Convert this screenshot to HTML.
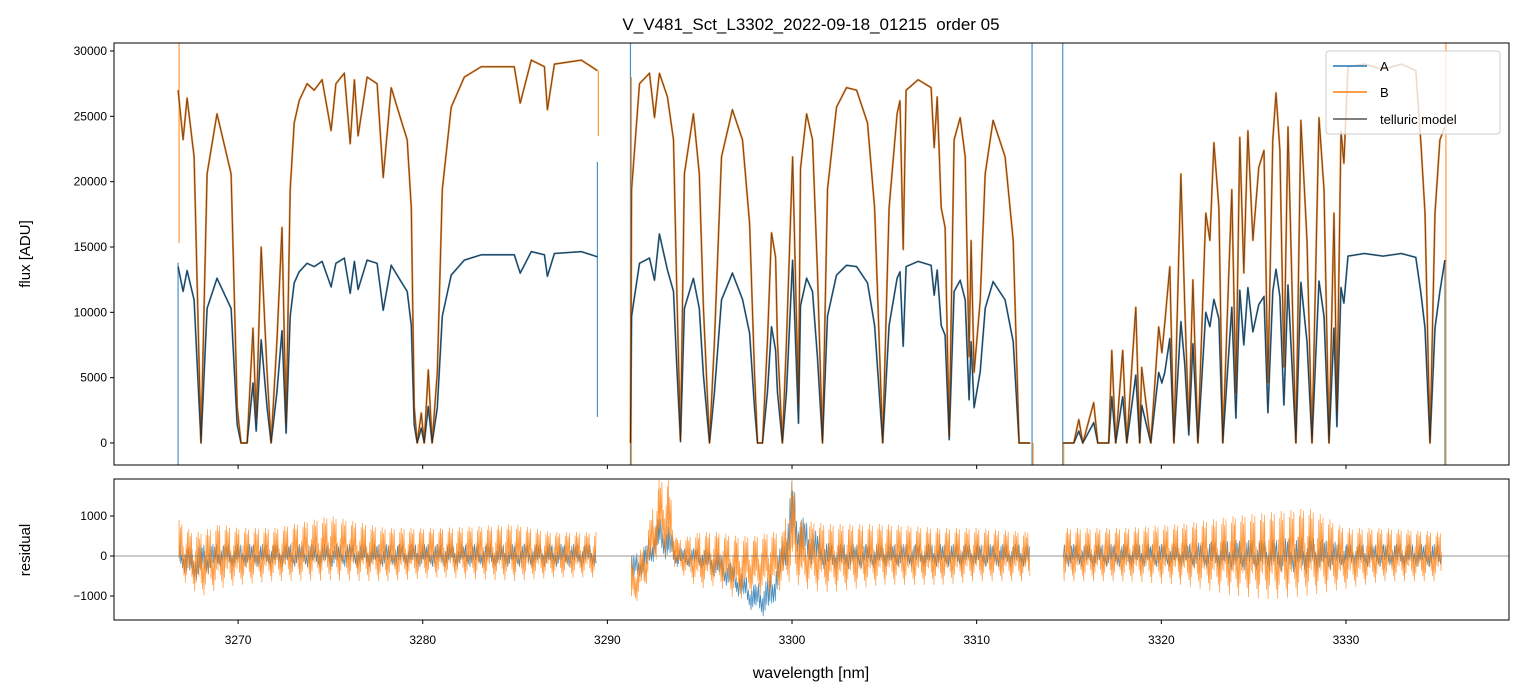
<!DOCTYPE html>
<html><head><meta charset="utf-8"><style>
body{margin:0;background:#fff;}
svg{display:block;font-family:"Liberation Sans","DejaVu Sans",sans-serif;}
</style></head><body>
<svg id="chart" width="1523" height="696" viewBox="0 0 1523 696" xmlns="http://www.w3.org/2000/svg">
<text x="811" y="30" font-size="17" text-anchor="middle" style="white-space:pre">V_V481_Sct_L3302_2022-09-18_01215&#160; order 05</text>
<g id="topG"></g>
<g id="botG"></g>
<text x="30" y="254" font-size="15" text-anchor="middle" transform="rotate(-90 30 254)">flux [ADU]</text>
<text x="30" y="550" font-size="15" text-anchor="middle" transform="rotate(-90 30 550)">residual</text>
<text x="811" y="678" font-size="16" text-anchor="middle">wavelength [nm]</text>
<g>
<rect x="1326" y="51" width="174" height="83" rx="3" fill="#fff" fill-opacity="0.8" stroke="#ccc"/>
<line x1="1333" y1="66" x2="1367" y2="66" stroke="#1f77b4" stroke-width="1.5"/>
<text x="1380" y="71" font-size="13">A</text>
<line x1="1333" y1="92" x2="1367" y2="92" stroke="#ff7f0e" stroke-width="1.5"/>
<text x="1380" y="97" font-size="13">B</text>
<line x1="1333" y1="119" x2="1367" y2="119" stroke="#555" stroke-width="1.5"/>
<text x="1380" y="124" font-size="13">telluric model</text>
</g>
</svg>
<script>
const wl=[3266.75,3267.02,3267.24,3267.62,3267.99,3268.32,3268.86,3269.62,3269.95,3270.16,3270.49,3270.81,3270.98,3271.25,3271.57,3271.79,3272.11,3272.38,3272.60,3272.82,3273.04,3273.31,3273.74,3274.12,3274.55,3275.04,3275.30,3275.75,3276.07,3276.30,3276.50,3276.99,3277.53,3277.86,3278.29,3278.83,3279.16,3279.38,3279.54,3279.70,3279.92,3280.08,3280.30,3280.51,3280.79,3281.06,3281.54,3282.25,3283.17,3284.96,3285.28,3285.88,3286.59,3286.75,3287.13,3288.59,3289.46,null,
3291.25,3291.31,3291.74,3292.28,3292.55,3292.82,3293.25,3293.58,3293.74,3293.96,3294.17,3294.66,3294.98,3295.20,3295.53,3295.80,3296.18,3296.77,3297.32,3297.70,3297.97,3298.13,3298.40,3298.67,3298.89,3299.11,3299.21,3299.48,3299.70,3300.03,3300.35,3300.46,3300.79,3301.11,3301.38,3301.65,3301.92,3302.41,3302.95,3303.50,3304.09,3304.47,3304.91,3305.26,3305.69,3305.85,3306.02,3306.18,3306.83,3307.53,3307.70,3307.86,3308.08,3308.29,3308.51,3308.78,3309.11,3309.38,3309.59,3309.70,3309.86,3310.19,3310.46,3310.89,3311.54,3311.98,3312.30,3312.90,null,
3314.66,3315.26,3315.53,3315.75,3316.34,3316.56,3317.15,3317.32,3317.53,3317.91,3318.13,3318.62,3318.83,3318.94,3319.43,3319.86,3320.03,3320.19,3320.46,3320.68,3321.06,3321.27,3321.49,3321.71,3321.98,3322.41,3322.63,3322.85,3323.12,3323.33,3323.82,3324.04,3324.25,3324.47,3324.69,3324.96,3325.28,3325.56,3325.77,3326.04,3326.21,3326.42,3326.64,3326.86,3327.29,3327.56,3327.89,3328.16,3328.54,3328.81,3329.08,3329.35,3329.51,3329.73,3329.89,3330.11,3331.0,3332.0,3333.0,3333.78,3334.05,3334.28,3334.55,3334.82,3335.09,3335.36];
const fluxB=[27000,23200,26400,21900,0,20600,25200,20600,2750,0,0,8800,1800,15000,5400,0,7900,16500,1500,19400,24500,26200,27500,27000,27800,23900,27500,28300,22900,27800,23500,28000,27500,20300,27200,24700,23200,18000,2800,0,2300,0,5600,0,5400,19400,25700,28000,28800,28800,26000,29300,28800,25500,29000,29300,28500,null,
0,19400,27500,28300,24900,28300,26500,23200,13000,200,20600,25200,20600,10400,0,7900,21900,25500,23200,16800,5400,0,0,7900,16100,14200,7900,0,7900,21900,3000,21000,25200,23200,13000,0,19400,25700,27200,27000,24500,18000,0,18000,25200,26200,14800,27000,27800,27200,22600,26500,18000,16500,500,23200,24900,21900,6600,15500,5400,10900,20600,24700,21900,15500,0,0,null,
0,0,1800,0,3100,0,0,7100,0,7100,0,10400,0,5800,0,8900,6900,9200,13500,0,20600,10400,1200,12500,0,17600,15500,23000,18000,0,19400,3800,23400,13000,23900,15500,21100,22400,4600,23200,26800,22400,5800,24200,0,24700,15500,0,24900,19400,0,17600,2500,23900,21400,28800,29000,28600,29000,28500,23200,17600,0,17600,23200,24200];
const fluxA=[13500,11600,13200,10950,0,10300,12600,10300,1400,0,0,4600,900,7900,2700,0,3950,8600,750,9700,12250,13100,13750,13500,13900,11950,13750,14150,11450,13900,11750,14000,13750,10150,13600,12350,11600,9000,1400,0,1150,0,2800,0,2700,9700,12850,14000,14400,14400,13000,14650,14400,12750,14500,14650,14250,null,
0,9700,13750,14150,12450,16000,13250,11600,6500,100,10300,12600,10300,5200,0,3950,10950,13000,11000,8400,2700,0,0,3950,8900,7100,3950,0,3950,14000,1500,10500,12600,11600,6500,0,9700,12850,13600,13500,12250,9000,0,9000,12600,13100,7400,13500,13900,13600,11300,13250,9000,8250,250,11600,12450,10950,3300,7750,2700,5450,10300,12350,10950,7750,0,0,null,
0,0,900,0,1550,0,0,3550,0,3550,0,5200,0,2900,0,5400,4600,5400,8000,0,9300,6000,600,7600,0,10000,8900,11000,9500,0,10400,1900,11700,7500,11900,8500,10600,11200,2300,11600,13300,11200,2900,12100,0,12300,7750,0,12400,9700,0,8800,1250,11900,10700,14300,14500,14300,14500,14200,11600,8800,0,8800,11600,14000];
const edgeWl=[3266.75,3289.46,3291.25,3313.0,3314.66,3335.36];
const edgeLoA=[-1700,2000,-1700,-1700,-1700,-1700];
const edgeHiA=[13800,21500,30700,30700,30700,14000];
const edgeLoB=[15300,23500,-1700,-1700,-1700,-1700];
const edgeHiB=[30700,28500,28000,0,0,30700];
const resWl=[3266.8,3267.5,3268,3269,3270,3272,3275,3278,3281,3285,3287,3289.4,null,3291.3,3292,3292.8,3293.3,3293.8,3295,3296,3297,3298,3298.8,3299.5,3300,3300.5,3302,3305,3308,3310,3312.9,null,3314.7,3318,3321,3324,3326,3328,3330,3332,3335.2];
const resBhi=[900,600,600,800,700,700,1000,700,700,800,600,600,null,-200,300,1900,1900,400,600,600,500,500,600,600,1900,900,800,800,700,700,600,null,700,700,800,1000,1100,1200,700,700,600];
const resBlo=[-600,-900,-1100,-900,-800,-700,-700,-700,-600,-700,-600,-600,null,-1400,-900,0,-200,-400,-900,-800,-1200,-1000,-1100,-900,-700,-900,-1000,-800,-800,-700,-700,null,-700,-700,-800,-1100,-1200,-1100,-900,-700,-700];
const resAhi=[300,200,300,300,300,300,300,300,300,300,300,300,null,0,200,1000,800,200,200,100,-300,-700,-500,400,1900,1000,300,300,300,300,300,null,300,300,300,400,400,500,300,300,300];
const resAlo=[-300,-700,-600,-300,-300,-300,-300,-300,-300,-300,-300,-300,null,-800,-500,0,-200,-300,-300,-600,-1000,-1500,-1600,-600,0,-200,-400,-300,-300,-300,-300,null,-300,-300,-300,-400,-400,-500,-300,-300,-300];
const fluxTicks=[0,5000,10000,15000,20000,25000,30000];
const resTicks=[-1000,0,1000];
const xTicks=[3270,3280,3290,3300,3310,3320,3330];

const NS="http://www.w3.org/2000/svg";
const L=114,R=1509,T1=43,B1=465,T2=479,B2=620;
const X0=3263.28,X1=3338.83;
const xs=v=>L+(v-X0)/(X1-X0)*(R-L);
const y1=v=>T1+(30612-v)/(30612+1685)*(B1-T1);
const y2=v=>T2+(1925-v)/(1925+1600)*(B2-T2);
function mk(tag,attrs,parent){const e=document.createElementNS(NS,tag);for(const k in attrs)e.setAttribute(k,attrs[k]);parent.appendChild(e);return e;}
const topPanel=document.getElementById('topG'),botPanel=document.getElementById('botG');
const defs=mk('defs',{},document.getElementById('chart'));
const c1=mk('clipPath',{id:'c1'},defs);mk('rect',{x:L,y:T1,width:R-L,height:B1-T1},c1);
const c2=mk('clipPath',{id:'c2'},defs);mk('rect',{x:L,y:T2,width:R-L,height:B2-T2},c2);
const g1=mk('g',{'clip-path':'url(#c1)'},topPanel);
const g2=mk('g',{'clip-path':'url(#c2)'},botPanel);
function linePath(xv,yv,fy){let d='',pen=false;for(let i=0;i<xv.length;i++){if(xv[i]===null||yv[i]===null){pen=false;continue;}d+=(pen?'L':'M')+xs(xv[i]).toFixed(1)+','+fy(yv[i]).toFixed(1);pen=true;}return d;}
for(let i=0;i<edgeWl.length;i++){
 const ea=mk('line',{x1:xs(edgeWl[i]),x2:xs(edgeWl[i]),y1:y1(edgeLoA[i]),y2:y1(edgeHiA[i]),stroke:'#1f77b4','stroke-width':1.2,'stroke-opacity':0.8},g1);
 
 
 const eb=mk('line',{x1:xs(edgeWl[i])+1,x2:xs(edgeWl[i])+1,y1:y1(edgeLoB[i]),y2:y1(edgeHiB[i]),stroke:'#ff7f0e','stroke-width':1.2,'stroke-opacity':0.8},g1);
 
 
}
const pa=mk('path',{d:linePath(wl,fluxA,y1),fill:'none',stroke:'#1f77b4','stroke-width':1.8,'stroke-opacity':0.85,'stroke-linejoin':'round'},g1);


const pb=mk('path',{d:linePath(wl,fluxB,y1),fill:'none',stroke:'#ff7f0e','stroke-width':2,'stroke-opacity':0.85,'stroke-linejoin':'round'},g1);


const ma=mk('path',{d:linePath(wl,fluxA,y1),fill:'none',stroke:'#222','stroke-width':1,'stroke-opacity':0.75},g1);


const mb=mk('path',{d:linePath(wl,fluxB,y1),fill:'none',stroke:'#222','stroke-width':1,'stroke-opacity':0.65},g1);


const jitter=[1,0.35,0.8,0.15,0.95,0.5,0.25,0.7,0.05,0.9,0.4,0.6,0.85,0.3];
function zig(hi,lo,step,phase){let d='';let k=phase;
 for(let i=0;i<resWl.length-1;i++){
  if(resWl[i]===null||resWl[i+1]===null)continue;
  const xa=xs(resWl[i]),xb=xs(resWl[i+1]);
  if(i===0||resWl[i-1]===null)d+='M'+xa.toFixed(1)+','+y2(0).toFixed(1);
  for(let x=xa;x<xb;x+=step){const t=(x-xa)/(xb-xa);
   const h=hi[i]+(hi[i+1]-hi[i])*t,l=lo[i]+(lo[i+1]-lo[i])*t,m=(h+l)/2;
   const j=jitter[k%jitter.length];const v=(k%2===0)?m+(h-m)*j:m+(l-m)*j;k++;
   d+='L'+x.toFixed(1)+','+y2(v).toFixed(1);}
 }return d;}
const ra=mk('path',{d:zig(resAhi,resAlo,0.9,3),fill:'none',stroke:'#1f77b4','stroke-width':0.7,'stroke-opacity':0.85},g2);


const rb=mk('path',{d:zig(resBhi,resBlo,0.7,0),fill:'none',stroke:'#ff7f0e','stroke-width':0.7,'stroke-opacity':0.8},g2);


const zl=mk('line',{x1:L,x2:R,y1:y2(0),y2:y2(0),stroke:'#777','stroke-width':0.8},g2);


const f1=mk('rect',{x:L,y:T1,width:R-L,height:B1-T1,fill:'none',stroke:'#000','stroke-width':1},topPanel);


const f2=mk('rect',{x:L,y:T2,width:R-L,height:B2-T2,fill:'none',stroke:'#000','stroke-width':1},botPanel);


fluxTicks.forEach(v=>{const y=y1(v);
 const t=mk('line',{x1:L-4,x2:L,y1:y,y2:y,stroke:'#000'},topPanel);
 
 
 const s=mk('text',{x:L-7,y:y+4,'font-size':12,'text-anchor':'end'},topPanel);s.textContent=v;
 
 });
resTicks.forEach(v=>{const y=y2(v);
 const t=mk('line',{x1:L-4,x2:L,y1:y,y2:y,stroke:'#000'},botPanel);
 
 
 const s=mk('text',{x:L-7,y:y+4,'font-size':12,'text-anchor':'end'},botPanel);s.textContent=v===-1000?'\u22121000':v;
 
 });
xTicks.forEach(v=>{const x=xs(v);
 const t1=mk('line',{x1:x,x2:x,y1:B1,y2:B1+4,stroke:'#000'},topPanel);
 
 
 const t2=mk('line',{x1:x,x2:x,y1:B2,y2:B2+4,stroke:'#000'},botPanel);
 
 
 const s=mk('text',{x:x,y:B2+24,'font-size':12,'text-anchor':'middle'},botPanel);s.textContent=v;
 
 });
</script>
</body></html>
